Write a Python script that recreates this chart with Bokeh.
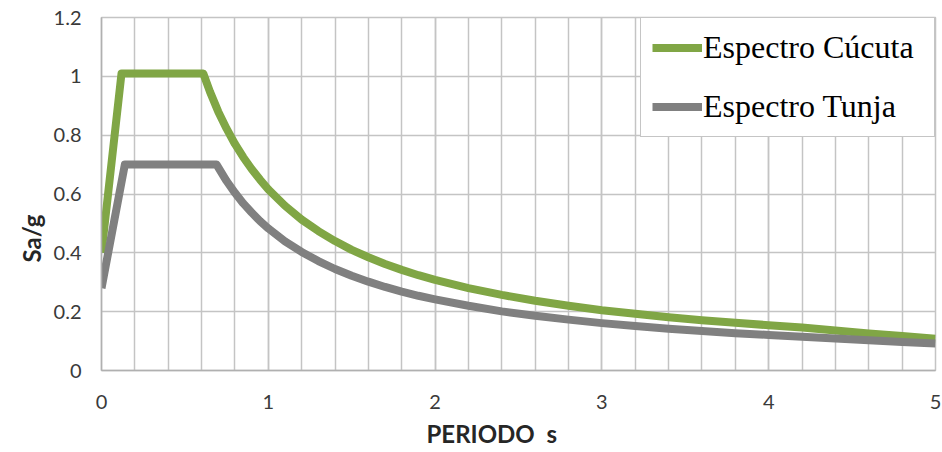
import numpy as np
from bokeh.plotting import figure
from bokeh.models import Range1d, FixedTicker, Legend, LegendItem, Title
from bokeh.embed import file_html
from bokeh.resources import INLINE

# Espectro Cúcuta (periodo s, Sa/g)
t_cucuta = [0, 0.12, 0.61, 0.65, 0.7, 0.75, 0.8, 0.85, 0.9, 0.95, 1.0, 1.1, 1.2, 1.3, 1.4,
            1.5, 1.6, 1.7, 1.8, 1.9, 2.0, 2.2, 2.4, 2.6, 2.8, 3.0, 3.2, 3.4, 3.6, 3.8,
            4.0, 4.2, 4.4, 4.6, 4.8, 5.0]
sa_cucuta = [0.40, 1.01, 1.01, 0.948, 0.88, 0.822, 0.77, 0.725, 0.685, 0.649, 0.616, 0.56,
             0.513, 0.474, 0.44, 0.41, 0.385, 0.362, 0.342, 0.324, 0.308, 0.28, 0.257,
             0.237, 0.22, 0.205, 0.193, 0.181, 0.171, 0.162, 0.154, 0.146, 0.136, 0.126,
             0.117, 0.108]

# Espectro Tunja
t_tunja = [0, 0.14, 0.69, 0.75, 0.8, 0.85, 0.9, 0.95, 1.0, 1.1, 1.2, 1.3, 1.4, 1.5, 1.6,
           1.7, 1.8, 1.9, 2.0, 2.2, 2.4, 2.6, 2.8, 3.0, 3.2, 3.4, 3.6, 3.8, 4.0, 4.2,
           4.4, 4.6, 4.8, 5.0]
sa_tunja = [0.28, 0.70, 0.70, 0.644, 0.604, 0.568, 0.537, 0.508, 0.483, 0.439, 0.403,
            0.372, 0.345, 0.322, 0.302, 0.284, 0.268, 0.254, 0.242, 0.22, 0.201, 0.186,
            0.173, 0.161, 0.151, 0.142, 0.134, 0.127, 0.121, 0.115, 0.109, 0.103, 0.097,
            0.092]

x_ticks = [0, 1, 2, 3, 4, 5]
y_ticks = [0, 0.2, 0.4, 0.6, 0.8, 1.0, 1.2]
y_tick_labels = {0: "0", 0.2: "0.2", 0.4: "0.4", 0.6: "0.6", 0.8: "0.8", 1.0: "1", 1.2: "1.2"}

GREEN = "#80a645"
GREY = "#808080"
GRID = "#c4c4c4"

p = figure(width=942, height=452, output_backend="svg", toolbar_location=None,
           x_range=Range1d(0, 5), y_range=Range1d(0, 1.2),
           min_border_left=101, min_border_right=7, min_border_top=17, min_border_bottom=82)
p.background_fill_color = "white"
p.border_fill_color = "white"
p.outline_line_color = GRID
p.outline_line_width = 1.5

minor = [round(v, 1) for v in np.arange(0, 5.01, 0.2)]
p.xaxis.ticker = FixedTicker(ticks=x_ticks, minor_ticks=minor)
p.yaxis.ticker = FixedTicker(ticks=y_ticks)
p.yaxis.major_label_overrides = y_tick_labels

p.xgrid.grid_line_color = GRID
p.xgrid.grid_line_width = 1.5
p.xgrid.minor_grid_line_color = GRID
p.xgrid.minor_grid_line_width = 1.5
p.ygrid.grid_line_color = GRID
p.ygrid.grid_line_width = 1.5

for ax in (p.xaxis, p.yaxis):
    ax.axis_line_color = "#b0b0b0"
    ax.axis_line_width = 1.5
    ax.major_tick_line_color = None
    ax.minor_tick_line_color = None
    ax.major_tick_out = 0
    ax.major_tick_in = 0
    ax.minor_tick_out = 0
    ax.minor_tick_in = 0
    ax.major_label_text_font = "Lato"
    ax.major_label_text_font_size = "20px"
    ax.major_label_text_color = "#3a3a3a"
p.yaxis.major_label_standoff = 20
p.xaxis.major_label_standoff = 24

r1 = p.line(t_cucuta, sa_cucuta, line_color=GREEN, line_width=8, line_join="round")
r2 = p.line(t_tunja, sa_tunja, line_color=GREY, line_width=8, line_join="round")

legend = Legend(items=[LegendItem(label="Espectro Cúcuta", renderers=[r1]),
                       LegendItem(label="Espectro Tunja", renderers=[r2])],
                location="top_right", margin=0, padding=11, spacing=22,
                glyph_width=50, glyph_height=35, label_height=35, label_width=220,
                label_standoff=1,
                label_text_font="Liberation Serif", label_text_font_size="32px",
                label_text_color="black", border_line_color="#8c8c8c",
                border_line_width=1.2, background_fill_color="white",
                background_fill_alpha=1.0)
p.add_layout(legend)

ytitle = Title(text="Sa/g", align="left", offset=108, standoff=9,
               text_font="Lato", text_font_style="bold", text_font_size="24px",
               text_color="#262626")
xtitle = Title(text="PERIODO \u00a0s", align="left", offset=325, standoff=10,
               text_font="Lato", text_font_style="bold", text_font_size="24px",
               text_color="#262626")
p.add_layout(ytitle, "left")
p.add_layout(xtitle, "below")

open("out.html", "w").write(file_html(p, INLINE))
